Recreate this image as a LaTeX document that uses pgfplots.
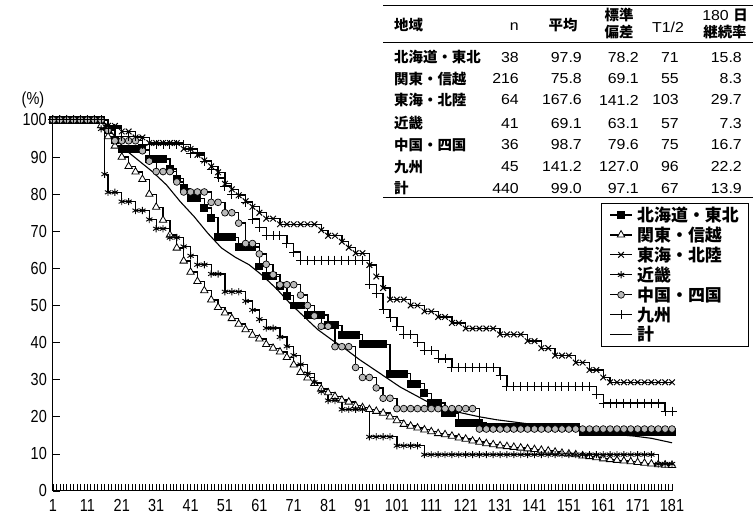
\documentclass[border=0pt]{standalone}
\usepackage{fontspec}
\usepackage{pgfplots}
\usepackage{pgfplotstable}
\pgfplotsset{compat=1.18}
\setmainfont{Liberation Sans}
\newfontfamily\jp{Noto Sans CJK JP}
\newfontfamily\tickf{Liberation Sans}[FakeStretch=0.83]
\newfontfamily\tabf{Liberation Sans}[FakeStretch=1.1]

\pgfplotstableread[row sep=\\]{x y\\1 100\\3 100\\5 100\\7 100\\9 100\\11 100\\13 100\\15 100\\17 97.4\\19 94.7\\21 92.1\\23 92.1\\25 92.1\\27 92.1\\29 89.5\\31 89.5\\33 89.5\\35 86.8\\37 84.2\\39 81.6\\41 78.9\\43 78.9\\45 76.3\\47 73.7\\49 68.4\\51 68.4\\53 68.4\\55 65.8\\57 65.8\\59 65.8\\61 60.5\\63 57.9\\65 57.9\\67 55.3\\69 52.6\\71 50\\73 50\\75 47.4\\77 47.4\\79 47.4\\81 44.7\\83 44.7\\85 42.1\\87 42.1\\89 42.1\\91 39.5\\93 39.5\\95 39.5\\97 39.5\\99 31.6\\101 31.6\\103 31.6\\105 28.9\\107 28.9\\109 26.3\\111 23.7\\113 23.7\\115 21\\117 21\\119 18.4\\121 18.4\\123 18.4\\125 18.4\\127 17.2\\129 17.2\\131 17.2\\133 17.2\\135 17.2\\137 17.2\\139 17.2\\141 17.2\\143 17.2\\145 17.2\\147 17.2\\149 17.2\\151 17.2\\153 17.2\\155 15.8\\157 15.8\\159 15.8\\161 15.8\\163 15.8\\165 15.8\\167 15.8\\169 15.8\\171 15.8\\173 15.8\\175 15.8\\177 15.8\\179 15.8\\181 15.8\\}\hok

\pgfplotstableread[row sep=\\]{x y\\1 100\\3 100\\5 100\\7 100\\9 100\\11 100\\13 100\\15 98.5\\17 95.5\\19 93\\21 90\\23 87.5\\25 86\\27 84\\29 80\\31 76.5\\33 73\\35 69\\37 65.5\\39 62\\41 59\\43 56.5\\45 54\\47 51.5\\49 49.5\\51 48\\53 46.5\\55 45\\57 43.5\\59 42\\61 41\\63 39.5\\65 38.5\\67 37.5\\69 36\\71 34\\73 32\\75 30.5\\77 29\\79 27.5\\81 26.5\\83 25.5\\85 24.5\\87 24\\89 23\\91 22.5\\93 22\\95 21.5\\97 21\\99 20\\101 19\\103 18\\105 17.5\\107 17\\109 16.5\\111 16\\113 15.5\\115 15.2\\117 14.8\\119 14.3\\121 14\\123 13.5\\125 13.2\\127 12.8\\129 12.5\\131 12.2\\133 12\\135 11.8\\137 11.6\\139 11.4\\141 11.2\\143 11\\145 10.8\\147 10.5\\149 10.2\\151 10\\153 9.8\\155 9.5\\157 9.3\\159 9\\161 8.7\\163 8.5\\165 8.3\\167 8.1\\169 7.9\\171 7.7\\173 7.5\\175 7.3\\177 7.1\\179 7\\181 6.9\\}\kan

\pgfplotstableread[row sep=\\]{x y\\1 100\\3 100\\5 100\\7 100\\9 100\\11 100\\13 100\\15 100\\17 98.4\\19 98.4\\21 96.9\\23 96.9\\25 95.3\\27 95.3\\29 93.8\\31 93.8\\33 93.8\\35 93.8\\37 93.8\\39 92.2\\41 92.2\\43 90.6\\45 89.1\\47 87.5\\49 85.9\\51 82.8\\53 81.3\\55 79.7\\57 78.1\\59 76.6\\61 75\\63 73.4\\65 73.4\\67 71.9\\69 71.9\\71 71.9\\73 71.9\\75 71.9\\77 71.9\\79 70.3\\81 68.8\\83 68.8\\85 67.2\\87 65.6\\89 64.1\\91 64.1\\93 60.9\\95 57.8\\97 54.7\\99 51.6\\101 51.6\\103 51.6\\105 50\\107 50\\109 48.4\\111 48.4\\113 46.9\\115 46.9\\117 45.3\\119 45.3\\121 43.8\\123 43.8\\125 43.8\\127 43.8\\129 43.8\\131 42.2\\133 42.2\\135 42.2\\137 42.2\\139 40.4\\141 40.4\\143 38.5\\145 38.5\\147 36.5\\149 36.5\\151 36.5\\153 34.6\\155 34.6\\157 32.6\\159 32.6\\161 30.6\\163 29.3\\165 29.3\\167 29.3\\169 29.3\\171 29.3\\173 29.3\\175 29.3\\177 29.3\\179 29.3\\181 29.3\\}\tok

\pgfplotstableread[row sep=\\]{x y\\1 100\\3 100\\5 100\\7 100\\9 100\\11 100\\13 100\\15 97.6\\16 85.4\\17 80.5\\19 80.5\\21 78\\23 78\\25 75.6\\27 75.6\\29 73.2\\31 70.7\\33 70.7\\35 68.3\\37 68.3\\39 65.9\\41 63.4\\43 61\\45 61\\47 58.5\\49 58.5\\51 53.7\\53 53.7\\55 53.7\\57 51.2\\59 48.8\\61 46.3\\63 43.9\\65 43.9\\67 41.5\\69 39\\71 36.6\\73 34.1\\75 31.7\\77 29.3\\79 26.8\\81 24.4\\83 24.4\\85 22\\87 22\\89 22\\91 22\\93 14.6\\95 14.6\\97 14.6\\99 14.6\\101 12.2\\103 12.2\\105 12.2\\107 12.2\\109 9.8\\111 9.8\\113 9.8\\115 9.8\\117 9.8\\119 9.8\\121 9.8\\123 9.8\\125 9.8\\127 9.8\\129 9.8\\131 9.8\\133 9.8\\135 9.8\\137 9.8\\139 9.8\\141 9.8\\143 9.8\\145 9.8\\147 9.8\\149 9.8\\151 9.8\\153 9.8\\155 9.8\\157 9.8\\159 9.8\\161 9.8\\163 9.8\\165 9.8\\167 9.8\\169 9.8\\171 9.8\\173 9.8\\175 9.8\\177 7.3\\179 7.3\\181 7.3\\}\kin

\pgfplotstableread[row sep=\\]{x y\\1 100\\3 100\\5 100\\7 100\\9 100\\11 100\\13 100\\15 100\\17 97.2\\19 94.4\\21 94.4\\23 94.4\\25 94.4\\27 91.7\\29 88.9\\31 86.1\\33 86.1\\35 86.1\\37 83.3\\39 80.6\\41 80.6\\43 80.6\\45 80.6\\47 77.8\\49 77.8\\51 75\\53 75\\55 72.2\\57 66.7\\59 66.7\\61 63.9\\63 61.1\\65 58.3\\67 55.6\\69 55.6\\71 55.6\\73 52.8\\75 50\\77 47.2\\79 44.4\\81 44.4\\83 38.9\\85 38.9\\87 38.9\\89 33.3\\91 30.6\\93 30.6\\95 27.8\\97 25\\99 25\\101 22.2\\103 22.2\\105 22.2\\107 22.2\\109 22.2\\111 22.2\\113 22.2\\115 22.2\\117 22.2\\119 22.2\\121 22.2\\123 22.2\\125 16.7\\127 16.7\\129 16.7\\131 16.7\\133 16.7\\135 16.7\\137 16.7\\139 16.7\\141 16.7\\143 16.7\\145 16.7\\147 16.7\\149 16.7\\151 16.7\\153 16.7\\155 16.7\\157 16.7\\159 16.7\\161 16.7\\163 16.7\\165 16.7\\167 16.7\\169 16.7\\171 16.7\\173 16.7\\175 16.7\\177 16.7\\179 16.7\\181 16.7\\}\chu

\pgfplotstableread[row sep=\\]{x y\\1 100\\3 100\\5 100\\7 100\\9 100\\11 100\\13 100\\15 100\\17 97.8\\19 97.8\\21 95.6\\23 95.6\\25 95.6\\27 93.3\\29 93.3\\31 93.3\\33 93.3\\35 93.3\\37 93.3\\39 93.3\\41 91.1\\43 91.1\\45 88.9\\47 86.7\\49 84.4\\51 82.2\\53 80\\55 80\\57 77.8\\59 73.3\\61 71.1\\63 68.9\\65 68.9\\67 68.9\\69 66.7\\71 64.4\\73 62.2\\75 62.2\\77 62.2\\79 62.2\\81 62.2\\83 62.2\\85 62.2\\87 62.2\\89 62.2\\91 62.2\\93 55.6\\95 53.3\\97 48.9\\99 46.7\\101 44.4\\103 42.2\\105 42.2\\107 40\\109 37.8\\111 37.8\\113 35.6\\115 35.6\\117 33.3\\119 33.3\\121 33.3\\123 33.3\\125 33.3\\127 33.3\\129 33.3\\131 31.1\\133 28.2\\135 28.2\\137 28.2\\139 28.2\\141 28.2\\143 28.2\\145 28.2\\147 28.2\\149 28.2\\151 28.2\\153 28.2\\155 28.2\\157 28.2\\159 26\\161 23.7\\163 23.7\\165 23.7\\167 23.7\\169 23.7\\171 23.7\\173 23.7\\175 23.7\\177 23.7\\179 21.5\\181 21.5\\}\kyu

\pgfplotstableread[row sep=\\]{x y\\1 100\\15 100\\17 98\\19 95.5\\22 92\\26 89\\30 86\\34 82.5\\38 78\\42 74\\46 69.5\\50 65.5\\54 63\\58 61\\62 58\\66 54.5\\70 50.5\\74 47\\78 43.5\\82 40.8\\86 38.3\\90 35.5\\94 33\\98 30.5\\102 28\\106 26\\110 24\\114 22.3\\120 21\\125 20\\130 19.2\\135 18.6\\140 18\\145 17.3\\150 16.7\\155 16.2\\160 15.6\\165 15.2\\170 14.8\\175 14.2\\181 13\\}\kei

\tikzset{
  tj/.style={font=\jp\bfseries\fontsize{14.5}{16}\selectfont, inner sep=0pt},
  tn/.style={font=\tabf\fontsize{14.5}{16}\selectfont, inner sep=0pt},
}

\begin{document}
\begin{tikzpicture}[x=1bp,y=1bp]
\begin{axis}[
  at={(0,0)}, anchor=south west,
  scale only axis, width=619bp, height=371bp,
  xmin=1, xmax=181, ymin=0, ymax=100,
  axis lines*=left,
  axis line style={line width=1bp},
  xtick={1,11,...,181}, minor x tick num=9,
  ytick={0,10,...,100},
  tick align=inside,
  major tick length=7bp, minor tick length=7bp,
  tick style={line width=0.75bp, black},
  /pgf/number format/assume math mode=true,
  ticklabel style={font=\tickf\fontsize{17.5}{20}\selectfont},
  yticklabel style={inner sep=0pt, xshift=-6bp},
  xticklabel style={inner sep=0pt, yshift=-8bp},
  clip=false,
  legend style={at={(0.8853,0.7763)}, anchor=north west, draw=black, line width=0.8bp,
    font=\jp\bfseries\fontsize{17}{19}\selectfont, inner xsep=8bp, inner ysep=2bp,
    nodes={inner sep=1.5bp}, row sep=1bp,
    /tikz/every odd column/.append style={column sep=3bp}},
  legend cell align=left,
  legend image code/.code={\draw[mark repeat=2,mark phase=2] plot coordinates {(0bp,0bp) (11bp,0bp) (22bp,0bp)};},
]
\addplot[const plot, black, line width=1.3bp, mark=square*, mark size=3.3bp, mark options={solid, fill=black}] table[x=x,y=y]{\hok};
\addlegendentry{北海道・東北}
\addplot[const plot, black, line width=1.3bp, mark=triangle*, mark size=4.3bp, mark options={solid, fill=white, draw=black, line width=0.8bp}] table[x=x,y=y]{\kan};
\addlegendentry{関東・信越}
\addplot[const plot, black, line width=1.3bp, mark=x, mark size=4bp, mark options={solid, line width=1bp}] table[x=x,y=y]{\tok};
\addlegendentry{東海・北陸}
\addplot[const plot, black, line width=1.3bp, mark=asterisk, mark size=3.6bp, mark options={solid, line width=0.9bp}] table[x=x,y=y]{\kin};
\addlegendentry{近畿}
\addplot[const plot, black, line width=1.3bp, mark=*, mark size=3.4bp, mark options={solid, fill=gray!55, draw=black, line width=0.7bp}] table[x=x,y=y]{\chu};
\addlegendentry{中国・四国}
\addplot[const plot, black, line width=1.3bp, mark=+, mark size=4.5bp, mark options={solid, line width=1bp}] table[x=x,y=y]{\kyu};
\addlegendentry{九州}
\addplot[black, line width=1.1bp, mark=none] table[x=x,y=y]{\kei};
\addlegendentry{計}
\end{axis}
% (%) label
\node[font=\tickf\fontsize{17.5}{20}\selectfont, inner sep=0pt] at (-20,391) {(\%)};
% table rules
\draw[line width=0.9bp] (330,486) -- (700,486);
\draw[line width=0.7bp] (330,449) -- (700,449);
\draw[line width=0.9bp] (330,294) -- (700,294);
% header
\node[tj, anchor=west] at (341,466) {地域};
\node[tn, anchor=east] at (466,464) {n};
\node[tj] at (510,466) {平均};
\node[tj] at (566,476) {標準};
\node[tj] at (566,459) {偏差};
\node[tn] at (615,464) {T1/2};
\node[inner sep=0pt] at (672,476) {\tabf\fontsize{14.5}{16}\selectfont 180 \jp\bfseries 日};
\node[tj] at (672,459) {継続率};
% rows
\foreach \yy/\reg/\n/\m/\s/\t/\r in {
  433.7/北海道・東北/38/97.9/78.2/71/15.8,
  412/関東・信越/216/75.8/69.1/55/8.3,
  391/東海・北陸/64/167.6/141.2/103/29.7,
  367.7/近畿/41/69.1/63.1/57/7.3,
  346/中国・四国/36/98.7/79.6/75/16.7,
  324.3/九州/45/141.2/127.0/96/22.2,
  302.7/計/440/99.0/97.1/67/13.9}{
  \node[tj, anchor=west] at (341,\yy) {\reg};
  \node[tn, anchor=east] at (466,\yy) {\n};
  \node[tn, anchor=east] at (529,\yy) {\m};
  \node[tn, anchor=east] at (586,\yy) {\s};
  \node[tn, anchor=east] at (626,\yy) {\t};
  \node[tn, anchor=east] at (689,\yy) {\r};
}
\pgfresetboundingbox
\path[use as bounding box] (-53,-27) rectangle (700,491);
\end{tikzpicture}
\end{document}
